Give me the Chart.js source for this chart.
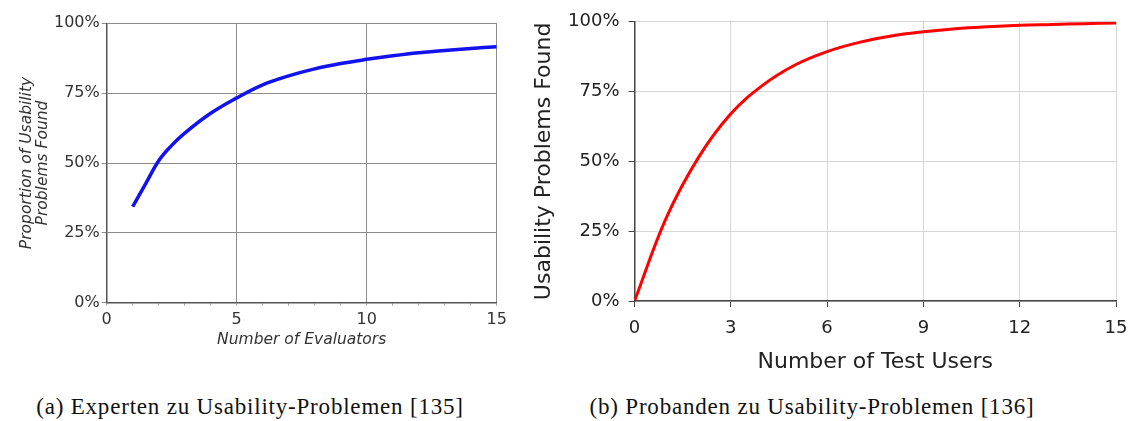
<!DOCTYPE html>
<html lang="en">
<head>
<meta charset="UTF-8">
<title>Usability Problems Found</title>
<script src="https://cdn.jsdelivr.net/npm/chart.js"></script>
<style>
    body {
        margin: 0;
        background: #fff;
        width: 1132px;
        height: 421px;
        position: relative;
        overflow: hidden;
    }
    #expertChart { position: absolute; left: 0; top: 0; }
    #userChart { position: absolute; left: 520px; top: 0; }
    .caption {
        position: absolute;
        top: 394px;
        font-family: 'Liberation Serif', serif;
        font-size: 23px;
        letter-spacing: 0.8px;
        color: #111;
        white-space: nowrap;
        transform: translateX(-50%);
    }
</style>
</head>
<body>
<canvas id="expertChart" width="520" height="360"></canvas>
<canvas id="userChart" width="612" height="380"></canvas>
<div class="caption" style="left:250px">(a) Experten zu Usability-Problemen [135]</div>
<div class="caption" style="left:812px">(b) Probanden zu Usability-Problemen [136]</div>

<script>
    // (a) heuristic evaluation: number of evaluators vs. share of problems found (%)
    const evaluators = [1, 1.5, 2, 2.5, 3, 4, 5, 6, 7, 8, 9, 10, 11, 12, 13, 14, 15];
    const expertFound = [34.4, 42.6, 50.8, 56.3, 60.7, 67.8, 73.3, 78.0, 81.2, 83.7, 85.6, 87.1, 88.4, 89.5, 90.3, 91.0, 91.6];

    // (b) user testing: number of test users vs. share of problems found (%)
    const testUsers = [0, 1, 2, 3, 4, 5, 6, 7, 8, 9, 10, 11, 12, 13, 14, 15];
    const userFound = [0, 30, 51.5, 67, 77.3, 84.5, 89.3, 92.6, 94.9, 96.4, 97.5, 98.2, 98.7, 99.0, 99.3, 99.5];

    const percentTicks = [0, 25, 50, 75, 100];

    Chart.defaults.font.family = "'DejaVu Sans', Verdana, sans-serif";
    Chart.defaults.animation = false;

    function toPoints(xs, ys) {
        return xs.map((x, i) => ({ x: x, y: ys[i] }));
    }

    // fixed axis sizes so the plot areas land where the original ones are
    function fixHeight(h) {
        return s => { s.height = h; s.paddingLeft = 0; s.paddingRight = 0; };
    }
    function fixWidth(w) {
        return s => { s.width = w; s.paddingTop = 0; s.paddingBottom = 0; };
    }

    // Left chart
    new Chart(document.getElementById('expertChart'), {
        type: 'scatter',
        data: {
            datasets: [{
                data: toPoints(evaluators, expertFound),
                showLine: true,
                borderColor: '#1212ee',
                borderWidth: 3.5,
                pointRadius: 0,
                tension: 0.4
            }]
        },
        options: {
            responsive: false,
            layout: { padding: { top: 23.3, right: 23.3, bottom: 7.3, left: 0 } },
            plugins: { legend: { display: false }, tooltip: { enabled: false } },
            scales: {
                x: {
                    type: 'linear',
                    min: 0,
                    max: 15,
                    afterFit: fixHeight(50),
                    border: { color: '#555', width: 1.5 },
                    grid: {
                        color: c => c.tick && c.tick.value % 5 === 0 ? '#8c8c8c' : 'rgba(0,0,0,0)',
                        tickColor: '#aaa',
                        tickLength: 3
                    },
                    ticks: {
                        stepSize: 1,
                        autoSkip: false,
                        maxRotation: 0,
                        padding: 5,
                        color: '#333',
                        font: { size: 16 },
                        callback: v => v % 5 === 0 ? String(v) : ''
                    },
                    title: {
                        display: true,
                        text: 'Number of Evaluators',
                        color: '#333',
                        font: { size: 15.5, style: 'italic' },
                        padding: { top: 0, bottom: 3.4 }
                    }
                },
                y: {
                    min: 0,
                    max: 100,
                    afterFit: fixWidth(106.7),
                    afterBuildTicks: s => { s.ticks = percentTicks.map(v => ({ value: v })); },
                    border: { color: '#555', width: 1.5 },
                    grid: { color: '#8c8c8c', tickLength: 5 },
                    ticks: {
                        padding: 2,
                        color: '#333',
                        font: { size: 16 },
                        callback: v => v + '%'
                    },
                    title: {
                        display: true,
                        text: ['Proportion of Usability', 'Problems Found'],
                        color: '#333',
                        font: { size: 15.5, style: 'italic', lineHeight: 1 },
                        padding: { top: 19.25, bottom: 0 }
                    }
                }
            }
        }
    });

    // Right chart
    new Chart(document.getElementById('userChart'), {
        type: 'scatter',
        data: {
            datasets: [{
                data: toPoints(testUsers, userFound),
                showLine: true,
                borderColor: '#ff0000',
                borderWidth: 3,
                pointRadius: 0,
                tension: 0.4
            }]
        },
        options: {
            responsive: false,
            layout: { padding: { top: 21.7, right: 16, bottom: 4, left: 0 } },
            plugins: { legend: { display: false }, tooltip: { enabled: false } },
            scales: {
                x: {
                    type: 'linear',
                    min: 0,
                    max: 15,
                    afterFit: fixHeight(75),
                    border: { color: '#444', width: 1.5 },
                    grid: { color: '#d6d6d6', tickColor: '#444', tickLength: 6 },
                    ticks: {
                        stepSize: 3,
                        maxRotation: 0,
                        padding: 11,
                        color: '#222',
                        font: { size: 18 }
                    },
                    title: {
                        display: true,
                        text: 'Number of Test Users',
                        color: '#222',
                        font: { size: 22 },
                        padding: { top: 0, bottom: 0.8 }
                    }
                },
                y: {
                    min: 0,
                    max: 100,
                    afterFit: fixWidth(114.5),
                    afterBuildTicks: s => { s.ticks = percentTicks.map(v => ({ value: v })); },
                    border: { color: '#444', width: 1.5 },
                    grid: { color: '#d6d6d6', tickColor: '#444', tickLength: 6 },
                    ticks: {
                        padding: 9,
                        color: '#222',
                        font: { size: 18 },
                        callback: v => v + '%'
                    },
                    title: {
                        display: true,
                        text: 'Usability Problems Found',
                        color: '#222',
                        font: { size: 22 },
                        padding: { top: 10.8, bottom: 0 }
                    }
                }
            }
        }
    });
</script>
</body>
</html>
